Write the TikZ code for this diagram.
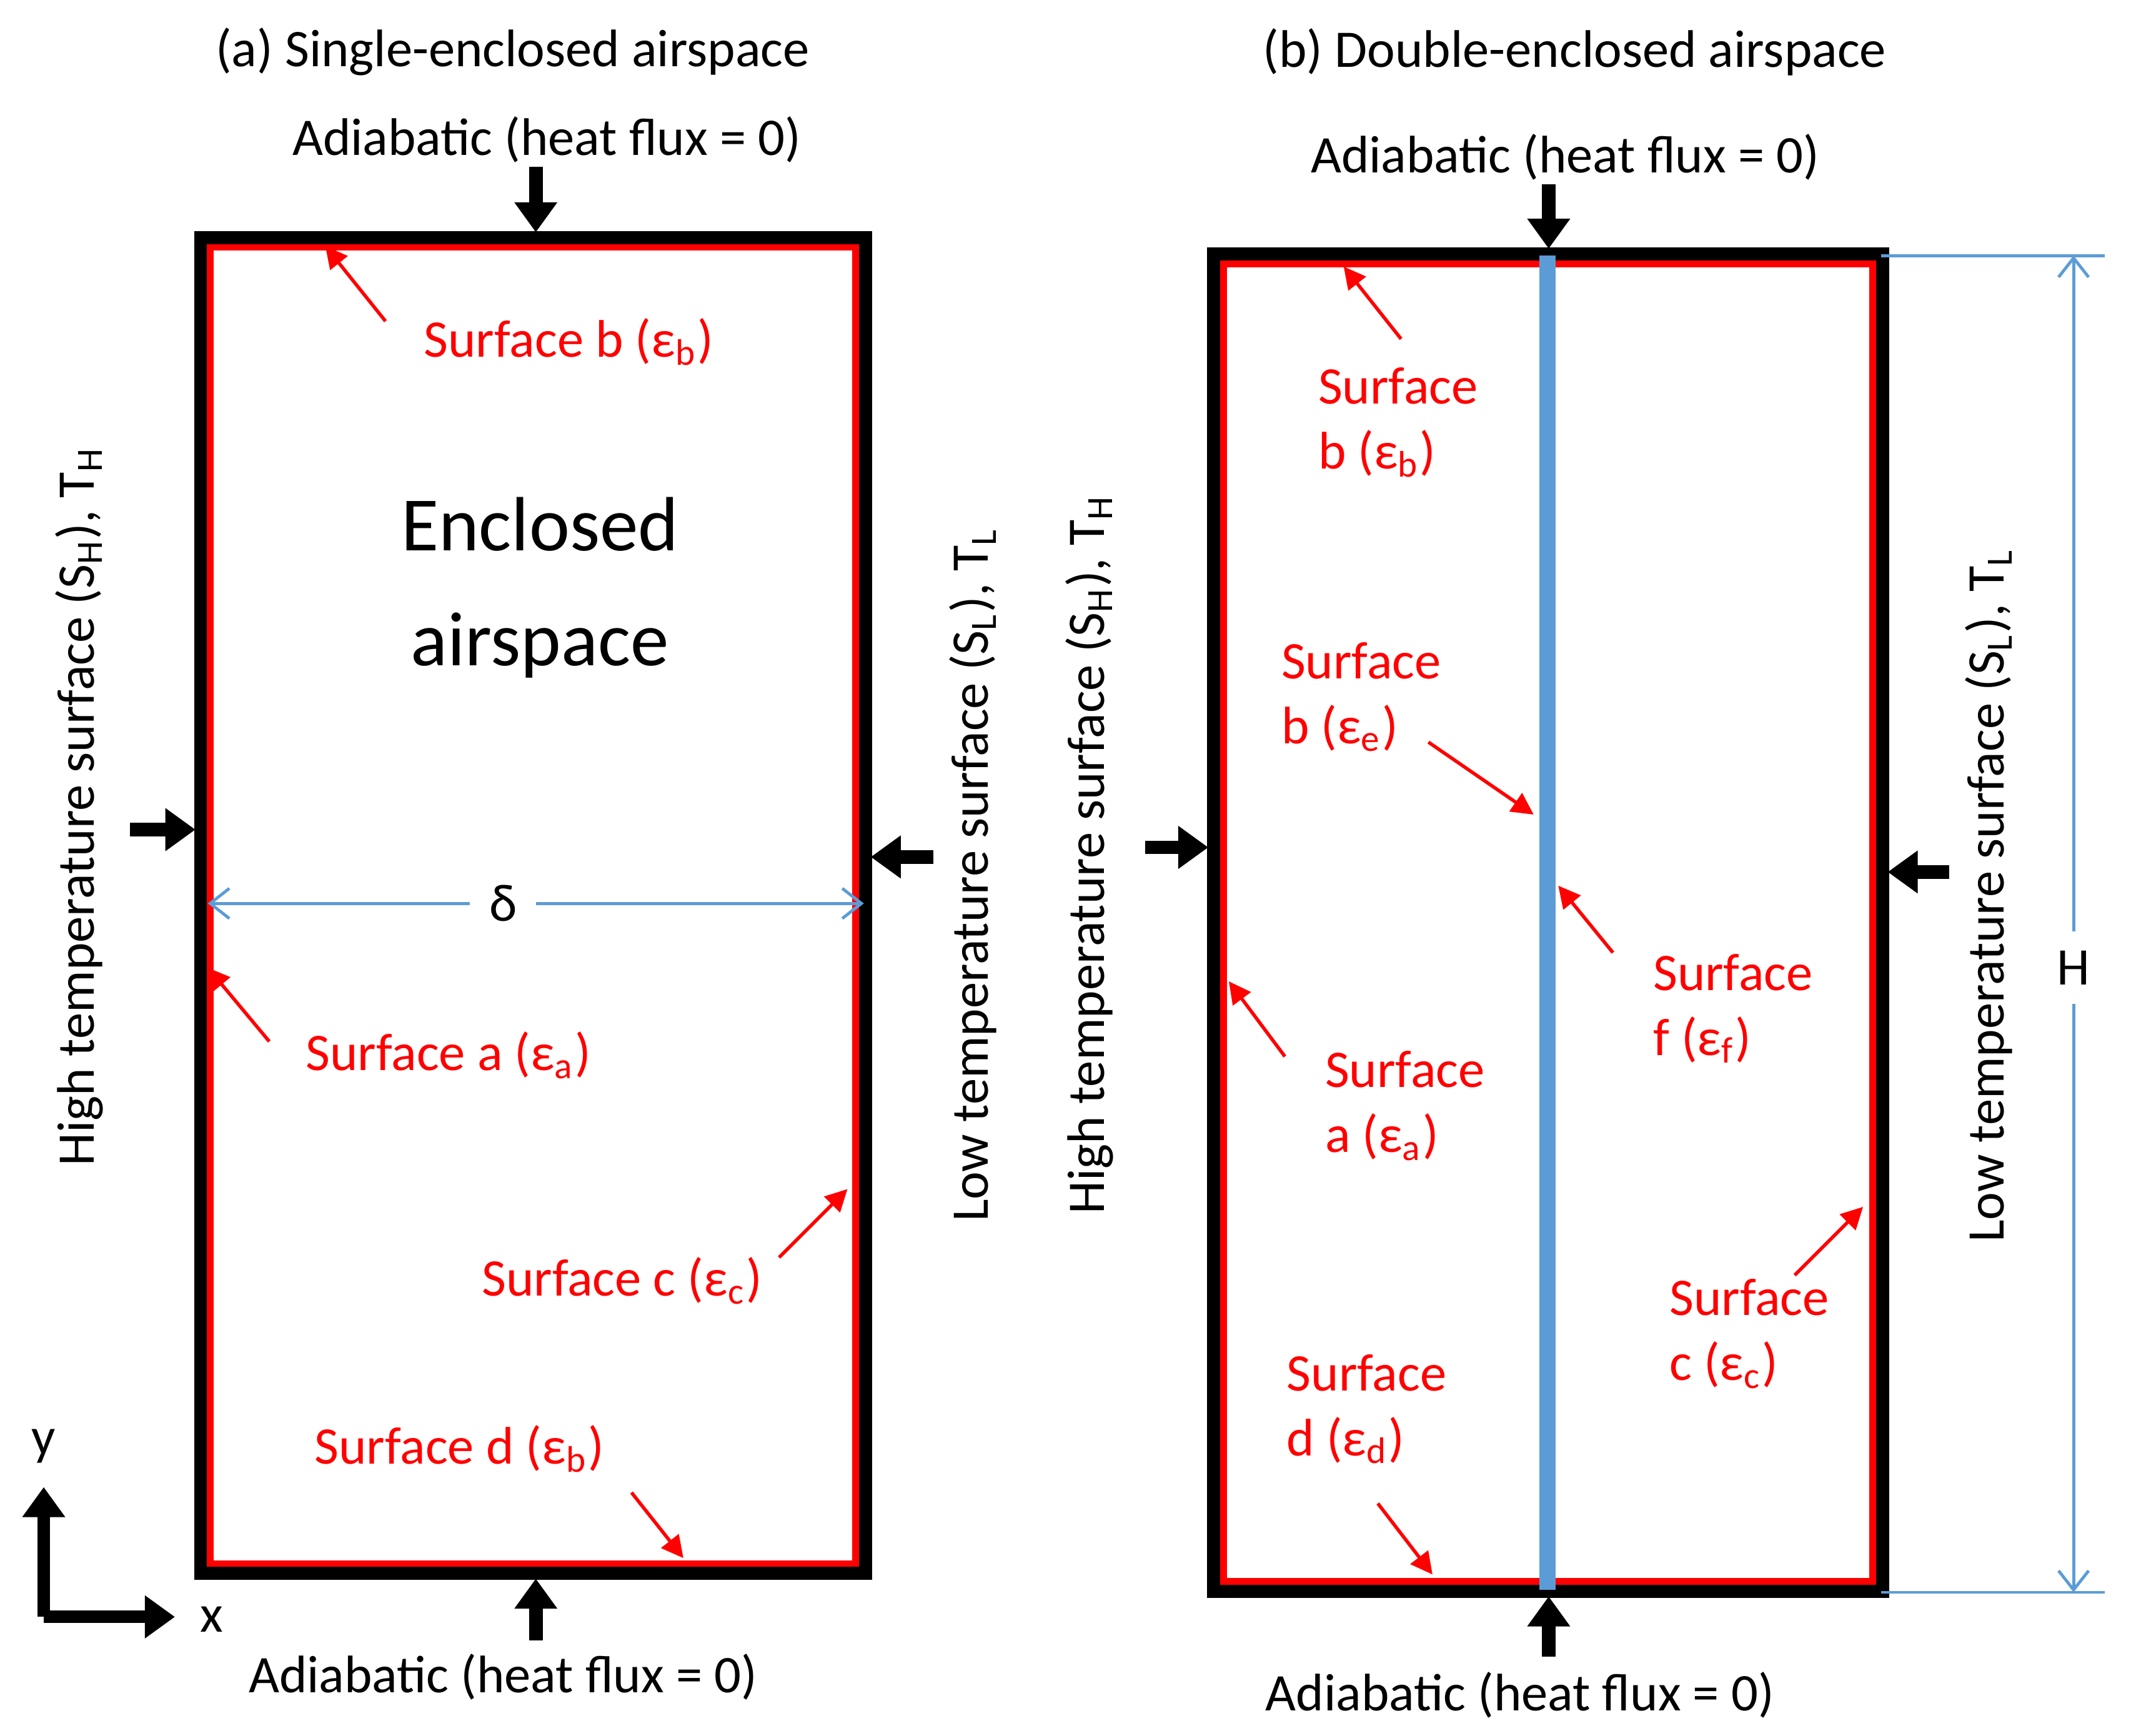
\documentclass[tikz,border=0pt]{standalone}
\usepackage{fontspec}
\setmainfont{Carlito}
\usetikzlibrary{arrows.meta,positioning}
\definecolor{dimblue}{rgb}{0.36,0.61,0.84}
\tikzset{
  lbl/.style={font=\fontsize{11}{13.5}\selectfont},
  red lbl/.style={lbl,text=red,align=left},
  heat/.style={line width=1mm,-{Triangle[length=2.2mm,width=3mm]}},
  pointer/.style={red,line width=0.25mm,-{Triangle[length=1.6mm,width=1.6mm]}},
  dim/.style={dimblue,line width=0.22mm,{Straight Barb[length=1.4mm,width=2.2mm]}-{Straight Barb[length=1.4mm,width=2.2mm]}},
  wall/.style={line width=1.2mm,black},
  inner/.style={line width=0.5mm,red}
}
\begin{document}
\begin{tikzpicture}[x=0.01cm,y=-0.01cm]
\useasboundingbox (0,0) rectangle (1559,1270);
%% (a) single
\draw[wall] (148,175) rectangle (632,1150);
\draw[inner] (154,181) rectangle (626,1144);
\node[lbl] (titA) at (375,38) {(a) Single-enclosed airspace};
\node[lbl] (topA) at (400,102) {Adiabatic (heat flux = 0)};
\node[lbl] (botA) at (368,1227) {Adiabatic (heat flux = 0)};
\coordinate (tA1) at (392,122); \coordinate (tA2) at (392,170);
\coordinate (bA1) at (392,1200); \coordinate (bA2) at (392,1155);
\coordinate (lA1) at (95,607); \coordinate (lA2) at (143,607);
\coordinate (rA1) at (683,627); \coordinate (rA2) at (637,627);
\draw[heat] (tA1) -- (tA2);
\draw[heat] (bA1) -- (bA2);
\draw[heat] (lA1) -- (lA2);
\draw[heat] (rA1) -- (rA2);
\node[lbl,rotate=90] (hotA) at (58,590) {High temperature surface (S\textsubscript{H}), T\textsubscript{H}};
\node[lbl,rotate=90] (coldA) at (712,640) {Low temperature surface (S\textsubscript{L}), T\textsubscript{L}};
\node[font=\fontsize{16}{24}\selectfont,align=center] (air) at (395,430) {Enclosed\\airspace};
\coordinate (dL) at (152,661); \coordinate (dR) at (632,661);
\draw[dim] (dL) -- (dR);
\node[lbl,fill=white,inner sep=4pt] (delta) at (368,661) {δ};
% surface labels
\node[red lbl] (sb) at (416,250) {Surface b (ε\textsubscript{b})};
\node[red lbl] (sa) at (328,772) {Surface a (ε\textsubscript{a})};
\node[red lbl] (sc) at (455,937) {Surface c (ε\textsubscript{c})};
\node[red lbl] (sd) at (336,1060) {Surface d (ε\textsubscript{b})};
\coordinate (sb1) at (282,235); \coordinate (sb2) at (238,180);
\coordinate (sa1) at (197,762); \coordinate (sa2) at (152,708);
\coordinate (sc1) at (570,920); \coordinate (sc2) at (620,870);
\coordinate (sd1) at (462,1092); \coordinate (sd2) at (500,1140);
\draw[pointer] (sb1) -- (sb2);
\draw[pointer] (sa1) -- (sa2);
\draw[pointer] (sc1) -- (sc2);
\draw[pointer] (sd1) -- (sd2);
% axes
\coordinate (o) at (32,1183);
\node[lbl] (ylbl) at (32,1058) {y};
\node[lbl] (xlbl) at (155,1185) {x};
\draw[line width=0.9mm,-{Triangle[length=2.2mm,width=3mm]}] (o) -- (32,1088);
\draw[line width=0.9mm,-{Triangle[length=2.2mm,width=3mm]}] (o) -- (128,1183);
%% (b) double
\draw[wall] (889,187) rectangle (1376,1163);
\draw[inner] (895,193) rectangle (1370,1157);
\draw[dimblue,line width=1.2mm] (1132,187) -- (1132,1163);
\node[lbl] (titB) at (1152,38) {(b) Double-enclosed airspace};
\node[lbl] (topB) at (1145,115) {Adiabatic (heat flux = 0)};
\node[lbl] (botB) at (1112,1240) {Adiabatic (heat flux = 0)};
\coordinate (tB1) at (1133,135); \coordinate (tB2) at (1133,182);
\coordinate (bB1) at (1133,1212); \coordinate (bB2) at (1133,1168);
\coordinate (lB1) at (838,620); \coordinate (lB2) at (884,620);
\coordinate (rB1) at (1426,638); \coordinate (rB2) at (1381,638);
\draw[heat] (tB1) -- (tB2);
\draw[heat] (bB1) -- (bB2);
\draw[heat] (lB1) -- (lB2);
\draw[heat] (rB1) -- (rB2);
\node[lbl,rotate=90] (hotB) at (797,625) {High temperature surface (S\textsubscript{H}), T\textsubscript{H}};
\node[lbl,rotate=90] (coldB) at (1455,655) {Low temperature surface (S\textsubscript{L}), T\textsubscript{L}};
\coordinate (hT) at (1517,187); \coordinate (hB) at (1517,1165);
\draw[dimblue,line width=0.22mm] (1376,187) -- (1540,187);
\draw[dimblue,line width=0.22mm] (1376,1165) -- (1540,1165);
\draw[dim] (hT) -- (hB);
\node[lbl,fill=white,inner sep=4pt] (hgt) at (1517,708) {H};
\node[red lbl,anchor=west] (Bsb) at (952,309) {Surface\\b (ε\textsubscript{b})};
\node[red lbl,anchor=west] (Bse) at (925,510) {Surface\\b (ε\textsubscript{e})};
\node[red lbl,anchor=west] (Bsf) at (1197,738) {Surface\\f (ε\textsubscript{f})};
\node[red lbl,anchor=west] (Bsa) at (957,809) {Surface\\a (ε\textsubscript{a})};
\node[red lbl,anchor=west] (Bsc) at (1209,976) {Surface\\c (ε\textsubscript{c})};
\node[red lbl,anchor=west] (Bsd) at (929,1031) {Surface\\d (ε\textsubscript{d})};
\coordinate (Bb1) at (1025,248); \coordinate (Bb2) at (983,195);
\coordinate (Be1) at (1045,543); \coordinate (Be2) at (1122,596);
\coordinate (Bf1) at (1180,697); \coordinate (Bf2) at (1140,648);
\coordinate (Ba1) at (940,773); \coordinate (Ba2) at (899,718);
\coordinate (Bc1) at (1313,933); \coordinate (Bc2) at (1363,883);
\coordinate (Bd1) at (1008,1100); \coordinate (Bd2) at (1048,1152);
\draw[pointer] (Bb1) -- (Bb2);
\draw[pointer] (Be1) -- (Be2);
\draw[pointer] (Bf1) -- (Bf2);
\draw[pointer] (Ba1) -- (Ba2);
\draw[pointer] (Bc1) -- (Bc2);
\draw[pointer] (Bd1) -- (Bd2);
\end{tikzpicture}
\end{document}
